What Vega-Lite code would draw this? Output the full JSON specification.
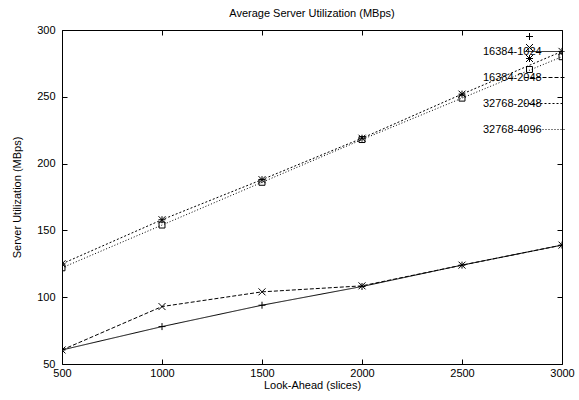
{
  "$schema": "https://vega.github.io/schema/vega-lite/v6.json",
  "autosize": "none",
  "width": 500,
  "height": 334,
  "padding": {"left": 62, "top": 30, "right": 17, "bottom": 36},
  "background": "white",
  "config": {
    "font": "Liberation Sans",
    "view": {"stroke": "black", "strokeWidth": 1},
    "axis": {"grid": false, "domain": false, "tickColor": "black", "tickSize": -5, "labelColor": "black", "labelFontSize": 11, "titleFontSize": 11, "titleFontWeight": "normal", "titleColor": "black", "labelFont": "Liberation Sans", "titleFont": "Liberation Sans", "labelFlush": false, "labelOverlap": false, "format": "d"}
  },
  "title": {"text": "Average Server Utilization (MBps)", "fontSize": 11, "fontWeight": "normal", "font": "Liberation Sans", "color": "black", "anchor": "middle", "offset": 5},
  "data": {"values": [
    {"series": "16384-1024", "lookahead": 500, "util": 60.5},
    {"series": "16384-1024", "lookahead": 1000, "util": 78},
    {"series": "16384-1024", "lookahead": 1500, "util": 94},
    {"series": "16384-1024", "lookahead": 2000, "util": 108},
    {"series": "16384-1024", "lookahead": 2500, "util": 124},
    {"series": "16384-1024", "lookahead": 3000, "util": 139},
    {"series": "16384-2048", "lookahead": 500, "util": 60.5},
    {"series": "16384-2048", "lookahead": 1000, "util": 93},
    {"series": "16384-2048", "lookahead": 1500, "util": 104},
    {"series": "16384-2048", "lookahead": 2000, "util": 108.5},
    {"series": "16384-2048", "lookahead": 2500, "util": 124},
    {"series": "16384-2048", "lookahead": 3000, "util": 139},
    {"series": "32768-2048", "lookahead": 500, "util": 125},
    {"series": "32768-2048", "lookahead": 1000, "util": 158},
    {"series": "32768-2048", "lookahead": 1500, "util": 188},
    {"series": "32768-2048", "lookahead": 2000, "util": 219},
    {"series": "32768-2048", "lookahead": 2500, "util": 252},
    {"series": "32768-2048", "lookahead": 3000, "util": 284},
    {"series": "32768-4096", "lookahead": 500, "util": 122},
    {"series": "32768-4096", "lookahead": 1000, "util": 154},
    {"series": "32768-4096", "lookahead": 1500, "util": 186},
    {"series": "32768-4096", "lookahead": 2000, "util": 218},
    {"series": "32768-4096", "lookahead": 2500, "util": 249},
    {"series": "32768-4096", "lookahead": 3000, "util": 280}
  ]},
  "encoding": {
    "x": {"field": "lookahead", "type": "quantitative", "scale": {"domain": [500, 3000], "nice": false, "zero": false}},
    "y": {"field": "util", "type": "quantitative", "scale": {"domain": [50, 300], "nice": false, "zero": false}}
  },
  "layer": [
    {
      "mark": {"type": "line", "color": "black", "strokeWidth": 1, "clip": true},
      "encoding": {
        "x": {"field": "lookahead", "type": "quantitative", "axis": {"orient": "bottom", "values": [500, 1000, 1500, 2000, 2500, 3000], "format": "d", "title": "Look-Ahead (slices)", "labelPadding": 8, "titlePadding": 1}},
        "y": {"field": "util", "type": "quantitative", "axis": {"orient": "left", "values": [50, 100, 150, 200, 250, 300], "format": "d", "title": "Server Utilization (MBps)", "labelPadding": 12, "titlePadding": 14}},
        "strokeDash": {
          "field": "series", "type": "nominal",
          "scale": {"domain": ["16384-1024", "16384-2048", "32768-2048", "32768-4096"], "range": [[1, 0], [4, 2], [2, 2], [1, 2]]},
          "legend": {
            "title": null,
            "orient": "none",
            "legendX": 388,
            "legendY": 1,
            "labelFontSize": 11,
            "labelColor": "black",
            "labelFont": "Liberation Sans",
            "symbolType": "stroke",
            "symbolSize": 49,
            "symbolStrokeWidth": 1,
            "symbolStrokeColor": "black",
            "rowPadding": -5,
            "labelOffset": -82,
            "symbolOffset": 74,
            "encode": {
              "symbols": {
                "update": {
                  "size": {"value": 1600},
                  "stroke": {"value": "black"}
                }
              }
            }
          }
        }
      }
    },
    {
      "mark": {"type": "point", "filled": false, "color": "black", "strokeWidth": 1, "size": 49, "opacity": 1, "clip": true},
      "encoding": {
        "x": {"field": "lookahead", "type": "quantitative", "axis": {"orient": "top", "values": [500, 1000, 1500, 2000, 2500, 3000], "labels": false, "title": null}},
        "y": {"field": "util", "type": "quantitative", "axis": {"orient": "right", "values": [50, 100, 150, 200, 250, 300], "labels": false, "title": null}},
        "shape": {
          "field": "series", "type": "nominal",
          "scale": {"range": ["M-1,0H1M0,-1V1", "M-1,-1L1,1M-1,1L1,-1", "M-1,0H1M0,-1V1M-1,-1L1,1M-1,1L1,-1", "M-0.85,-0.85H0.85V0.85H-0.85Z"]},
          "legend": {
            "title": null,
            "orient": "none",
            "legendX": 388,
            "legendY": 1,
            "labelFontSize": 11,
            "labelFont": "Liberation Sans",
            "labelOpacity": 0,
            "symbolSize": 49,
            "symbolStrokeWidth": 1,
            "symbolStrokeColor": "black",
            "symbolFillColor": "transparent",
            "rowPadding": -5,
            "labelOffset": -82,
            "symbolOffset": 74
          }
        }
      }
    }
  ],
  "resolve": {"axis": {"x": "independent", "y": "independent"}}
}
